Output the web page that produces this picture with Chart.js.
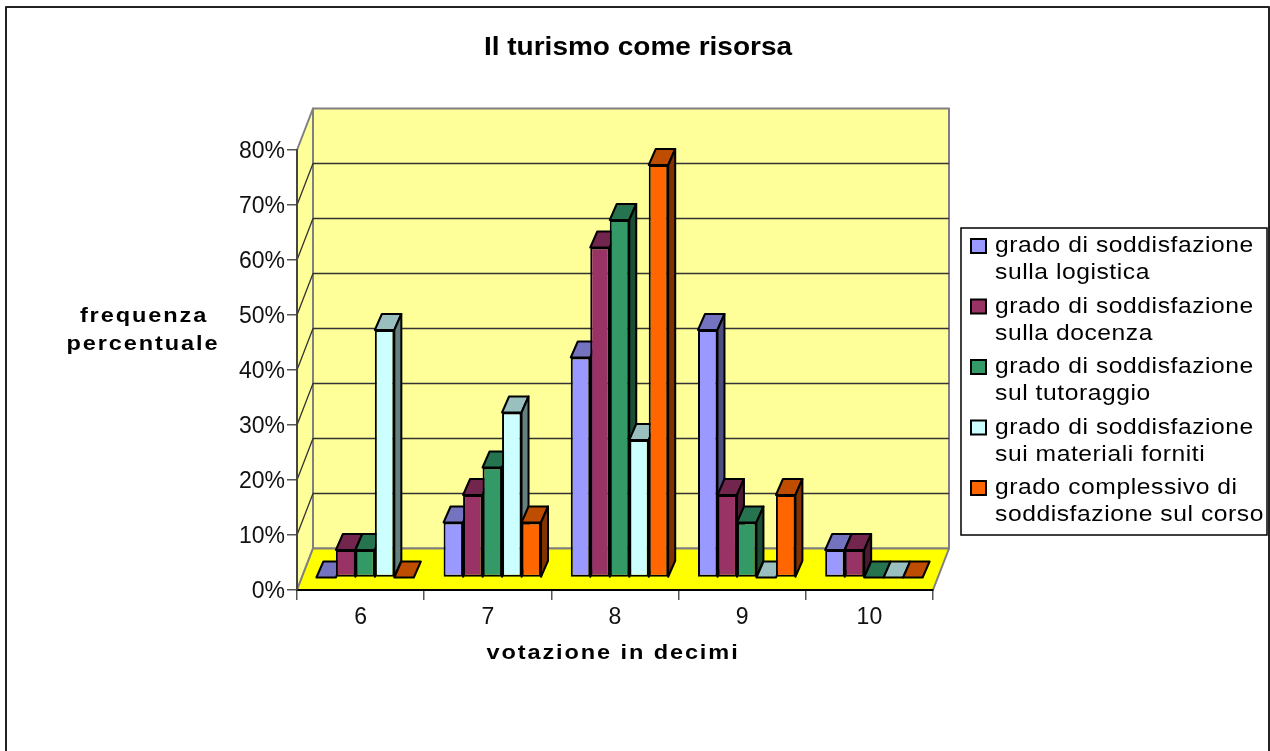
<!DOCTYPE html>
<html>
<head>
<meta charset="utf-8">
<title>Il turismo come risorsa</title>
<script src="https://cdn.jsdelivr.net/npm/chart.js@4"></script>
<style>
    html, body { margin: 0; padding: 0; background: #fff; overflow: hidden; }
    #wrap { width: 1270px; height: 751px; }
</style>
</head>
<body>
<div id="wrap"><canvas id="chart" width="1270" height="751"></canvas></div>
<script>
// Chart data
const categories = ['6', '7', '8', '9', '10'];
const logistica = [0, 10, 40, 45, 5];
const docenza = [5, 15, 60, 15, 5];
const tutoraggio = [5, 20, 65, 10, 0];
const materiali = [45, 30, 25, 0, 0];
const complessivo = [0, 10, 75, 15, 0];
const legendLabels = [
    ['grado di soddisfazione', 'sulla logistica'],
    ['grado di soddisfazione', 'sulla docenza'],
    ['grado di soddisfazione', 'sul tutoraggio'],
    ['grado di soddisfazione', 'sui materiali forniti'],
    ['grado complessivo di', 'soddisfazione sul corso']
];
const chartTitle = 'Il turismo come risorsa';
const yTitle = ['frequenza', 'percentuale'];
const xTitle = 'votazione in decimi';

// Face colours of the bars
const frontColors = ['#9999FF', '#993366', '#339966', '#CCFFFF', '#FF6600'];
const topColors = ['#7373BF', '#73264D', '#267350', '#99BFBF', '#BF4D00'];
const sideColors = ['#4D4D80', '#4D1A33', '#1A4D33', '#668080', '#803300'];

const FONT = '"Liberation Sans", Arial, sans-serif';
const WALL_DX = 16, WALL_DY = 41.5;   // front axes -> back wall
const BAR_OX = 4.5, BAR_OY = 12.5;    // front axes -> front of the bars
const DEPTH_DX = 7, DEPTH_DY = 16;    // depth of a bar
const STRETCH = 1.12;                 // the reference text is a bit wider than the font

function poly(ctx, pts, fill, stroke, lineWidth) {
    ctx.beginPath();
    pts.forEach(function (p, i) {
        if (i === 0) ctx.moveTo(p[0], p[1]);
        else ctx.lineTo(p[0], p[1]);
    });
    ctx.closePath();
    if (fill) {
        ctx.fillStyle = fill;
        ctx.fill();
    }
    if (stroke) {
        ctx.strokeStyle = stroke;
        ctx.lineWidth = lineWidth;
        ctx.stroke();
    }
}

// Text widened around its anchor point
function wideText(ctx, text, x, y) {
    ctx.save();
    ctx.translate(x, y);
    ctx.scale(STRETCH, 1);
    ctx.fillText(text, 0, 0);
    ctx.restore();
}

// Outer frame, walls and floor of the 3D box
function drawBox(chart) {
    const ctx = chart.ctx;
    const a = chart.chartArea;
    const y = chart.scales.y;

    ctx.save();
    ctx.lineJoin = 'round';
    ctx.strokeStyle = '#222';
    ctx.lineWidth = 2;
    ctx.beginPath();
    ctx.moveTo(6, 751);
    ctx.lineTo(6, 7);
    ctx.lineTo(1269, 7);
    ctx.lineTo(1269, 751);
    ctx.stroke();

    const backL = a.left + WALL_DX, backR = a.right + WALL_DX;
    const backT = a.top - WALL_DY, backB = a.bottom - WALL_DY;

    poly(ctx, [[a.left, a.top], [backL, backT], [backL, backB], [a.left, a.bottom]], '#FFFF99', '#808080', 2);
    poly(ctx, [[backL, backT], [backR, backT], [backR, backB], [backL, backB]], '#FFFF99', '#808080', 2);

    // Gridlines run over the side wall and then along the back wall
    ctx.strokeStyle = '#333';
    ctx.lineWidth = 1.3;
    y.ticks.forEach(function (t) {
        if (t.value === 0 || t.value === y.max) return;
        const py = y.getPixelForValue(t.value);
        ctx.beginPath();
        ctx.moveTo(a.left, py);
        ctx.lineTo(backL, py - WALL_DY);
        ctx.lineTo(backR, py - WALL_DY);
        ctx.stroke();
    });

    poly(ctx, [[a.left, a.bottom], [backL, backB], [backR, backB], [a.right, a.bottom]], '#FFFF00', '#808080', 2);
    ctx.restore();
}

// Bars go left to right, so each front covers the side of the one before it
function drawBars(chart) {
    const ctx = chart.ctx;
    chart.data.datasets.forEach(function (ds, i) {
        chart.getDatasetMeta(i).data.forEach(function (bar) {
            const left = bar.x - bar.width / 2 + BAR_OX;
            const right = bar.x + bar.width / 2 + BAR_OX;
            const top = bar.y - BAR_OY;
            const bottom = bar.base - BAR_OY;

            ctx.save();
            ctx.lineJoin = 'round';
            poly(ctx, [[left, top], [left + DEPTH_DX, top - DEPTH_DY], [right + DEPTH_DX, top - DEPTH_DY], [right, top]],
                topColors[i], '#000', 2);
            if (bottom > top) {
                poly(ctx, [[right, top], [right + DEPTH_DX, top - DEPTH_DY], [right + DEPTH_DX, bottom - DEPTH_DY], [right, bottom]],
                    sideColors[i], '#000', 2);
            }
            ctx.translate(BAR_OX, -BAR_OY);
            bar.draw(ctx);
            ctx.restore();
        });
    });
}

function drawAxisTitles(ctx) {
    ctx.save();
    ctx.fillStyle = '#000';
    ctx.font = 'bold 21px ' + FONT;
    ctx.letterSpacing = '1.7px';
    ctx.textAlign = 'center';
    ctx.textBaseline = 'middle';
    wideText(ctx, yTitle[0], 144, 316);
    wideText(ctx, yTitle[1], 143, 344);
    wideText(ctx, xTitle, 613, 653);
    ctx.restore();
}

function drawLegend(ctx) {
    ctx.save();
    ctx.fillStyle = '#fff';
    ctx.strokeStyle = '#000';
    ctx.lineWidth = 1.5;
    ctx.fillRect(961, 228, 306, 307);
    ctx.strokeRect(961, 228, 306, 307);

    ctx.font = '22px ' + FONT;
    ctx.letterSpacing = '0.5px';
    ctx.textBaseline = 'middle';
    ctx.textAlign = 'left';
    legendLabels.forEach(function (lines, i) {
        const rowY = 246 + i * 60.5;
        ctx.fillStyle = frontColors[i];
        ctx.strokeStyle = '#000';
        ctx.lineWidth = 2;
        ctx.fillRect(971, rowY - 7, 15, 14);
        ctx.strokeRect(971, rowY - 7, 15, 14);
        ctx.fillStyle = '#000';
        lines.forEach(function (line, j) {
            wideText(ctx, line, 995, rowY + j * 27);
        });
    });
    ctx.restore();
}

const box3dPlugin = {
    id: 'box3d',
    afterLayout: function (chart) {
        // The title is centred on the whole page, not on the plot, and drawn wider
        const block = chart.titleBlock;
        const drawTitle = block.draw;
        block.left = 6;
        block.right = 1270;
        block.draw = function () {
            const ctx = chart.ctx;
            ctx.save();
            ctx.translate(638, 0);
            ctx.scale(STRETCH, 1);
            ctx.translate(-638, 0);
            drawTitle.call(block);
            ctx.restore();
        };
    },
    beforeDraw: drawBox,
    beforeDatasetsDraw: function (chart) {
        drawBars(chart);
        return false;
    },
    afterDraw: function (chart) {
        drawAxisTitles(chart.ctx);
        drawLegend(chart.ctx);
    }
};

const datasets = [logistica, docenza, tutoraggio, materiali, complessivo].map(function (values, i) {
    return {
        label: legendLabels[i].join(' '),
        data: values,
        backgroundColor: frontColors[i],
        borderColor: '#000',
        borderWidth: 2,
        borderSkipped: false,
        categoryPercentage: 0.766,
        barPercentage: 1
    };
});

const canvas = document.getElementById('chart');
canvas.getContext('2d').letterSpacing = '1.5px';

new Chart(canvas, {
    type: 'bar',
    data: { labels: categories, datasets: datasets },
    plugins: [box3dPlugin],
    options: {
        responsive: false,
        animation: false,
        layout: { padding: { left: 0, top: 0, right: 337, bottom: 0 } },
        plugins: {
            legend: { display: false },
            tooltip: { enabled: false },
            title: {
                display: true,
                text: chartTitle,
                color: '#000',
                font: { family: FONT, size: 25, weight: 'bold', lineHeight: 1 },
                padding: { top: 36, bottom: 89 }
            }
        },
        scales: {
            x: {
                afterFit: function (scale) { scale.height = 161; },
                border: { color: '#000', width: 2 },
                grid: { drawOnChartArea: false, color: '#555', tickLength: 10, lineWidth: 1.5 },
                ticks: { color: '#111', font: { family: FONT, size: 23 }, padding: 4, maxRotation: 0 }
            },
            y: {
                min: 0,
                max: 80,
                afterFit: function (scale) { scale.width = 297; },
                border: { color: '#444', width: 2 },
                grid: { drawOnChartArea: false, color: '#555', tickLength: 10, lineWidth: 1.5 },
                ticks: {
                    stepSize: 10,
                    color: '#111',
                    font: { family: FONT, size: 23 },
                    padding: 2,
                    labelOffset: 2,
                    callback: function (v) { return v + '%'; }
                }
            }
        }
    }
});
</script>
</body>
</html>
